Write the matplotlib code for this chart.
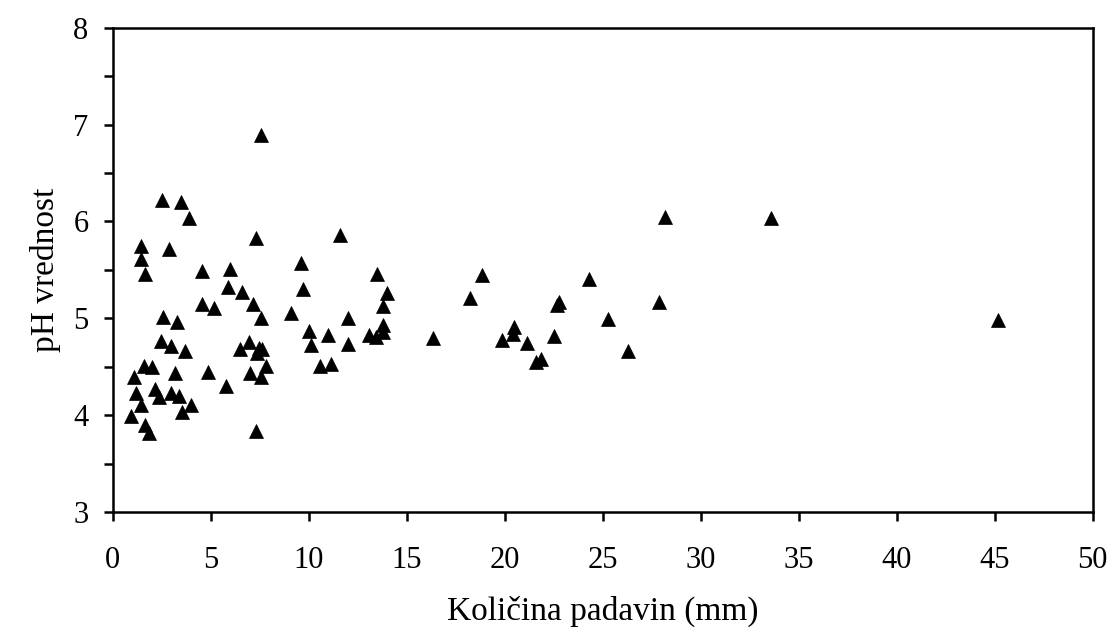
import numpy as np
import matplotlib.pyplot as plt
from matplotlib.ticker import MultipleLocator

plt.rcParams['font.family'] = ['Liberation Serif', 'DejaVu Serif']

# kolicina padavin (mm) in pH
padavine = [7.59, 2.49, 3.47, 3.88, 7.29, 1.46, 1.46, 1.67, 2.86, 4.58,
            5.98, 9.60, 9.69, 5.87, 6.60, 7.17, 4.58, 5.17, 7.59, 9.09,
            2.57, 3.27, 10.03, 10.10, 2.45, 2.96, 3.68, 6.49, 6.96, 7.35,
            7.60, 7.45, 7.80, 7.00, 7.59, 4.87, 5.77, 1.60, 1.98, 3.17,
            1.07, 1.17, 2.14, 2.35, 2.96, 3.37, 1.46, 3.98, 3.56, 0.95,
            1.63, 1.86, 7.29,
            11.59, 13.50, 14.00, 13.80, 18.83, 18.23, 12.02, 11.00, 12.02,
            10.60, 11.12, 13.09, 13.43, 13.80, 13.80, 16.33, 19.85, 20.50,
            20.45, 28.16, 33.59, 24.28, 22.75, 22.66, 27.87, 25.25, 22.54,
            21.13, 21.84, 21.60, 26.27, 45.15]
ph = [6.89, 6.22, 6.20, 6.04, 5.83, 5.75, 5.61, 5.46, 5.72, 5.49,
      5.51, 5.57, 5.30, 5.32, 5.27, 5.15, 5.15, 5.11, 5.00, 5.05,
      5.01, 4.96, 4.87, 4.72, 4.77, 4.71, 4.66, 4.68, 4.75, 4.64,
      4.68, 4.69, 4.51, 4.43, 4.39, 4.45, 4.30, 4.51, 4.50, 4.43,
      4.39, 4.23, 4.27, 4.19, 4.23, 4.20, 4.10, 4.10, 4.03, 3.99,
      3.90, 3.81, 3.84,
      5.86, 5.46, 5.26, 5.13, 5.45, 5.21, 5.00, 4.83, 4.73,
      4.51, 4.53, 4.83, 4.81, 4.93, 4.86, 4.80, 4.78, 4.91,
      4.84, 6.05, 6.04, 5.41, 5.17, 5.14, 5.17, 4.99, 4.82,
      4.74, 4.58, 4.55, 4.66, 4.98]

fig = plt.figure(figsize=(11.16, 6.32), dpi=100)
ax = fig.add_axes([0.101, 0.190, 0.878, 0.766])

ax.plot(padavine, ph, linestyle='none', marker='^', markersize=9.5,
        markeredgewidth=0.5, color='black')

ax.set_xlim(0, 50)
ax.set_ylim(3, 8)
ax.xaxis.set_major_locator(MultipleLocator(5))
ax.yaxis.set_major_locator(MultipleLocator(1))
ax.yaxis.set_minor_locator(MultipleLocator(0.5))

ax.tick_params(axis='both', which='both', direction='out', length=6.5, width=1.8,
               labelsize=22)
ax.tick_params(axis='x', pad=18)
ax.tick_params(axis='y', pad=11)
for s in ax.spines.values():
    s.set_linewidth(1.8)

ax.set_xlabel('Količina padavin (mm)', fontsize=24, labelpad=15)
ax.set_ylabel('pH vrednost', fontsize=24, labelpad=9)

fig.savefig('out.png', dpi=100)
